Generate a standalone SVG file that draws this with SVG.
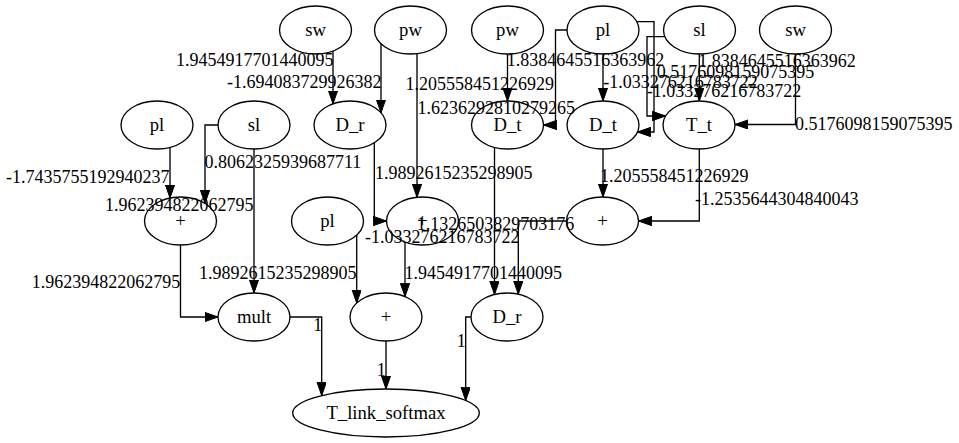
<svg xmlns="http://www.w3.org/2000/svg" width="959" height="443" viewBox="0 0 959 443">
<style>
  .node ellipse { fill: none; stroke: #000; stroke-width: 1.33; }
  .node text { font-family: "Liberation Serif", "Times New Roman", serif; font-size: 18.67px; text-anchor: middle; fill: #000; }
  .edges path { fill: none; stroke: #000; stroke-width: 1.33; marker-end: url(#arrow); }
  .labels text { font-family: "Liberation Serif", "Times New Roman", serif; font-size: 18px; fill: #000; }
</style>
<defs>
  <marker id="arrow" markerUnits="userSpaceOnUse" markerWidth="14" markerHeight="10" refX="13.3" refY="4.67" orient="auto">
    <path d="M0,0 L13.3,4.67 L0,9.33 Z" fill="#000" stroke="#000" stroke-width="1"/>
  </marker>
</defs>
<rect width="959" height="443" fill="#fff"/>

<!-- row 1 -->
<g id="sw1" class="node"><ellipse cx="315.5" cy="30" rx="36" ry="24"/><text x="315.5" y="36">sw</text></g>
<g id="pw1" class="node"><ellipse cx="410.5" cy="30" rx="36" ry="24"/><text x="410.5" y="36">pw</text></g>
<g id="pw2" class="node"><ellipse cx="507.5" cy="30" rx="36" ry="24"/><text x="507.5" y="36">pw</text></g>
<g id="pl2" class="node"><ellipse cx="603" cy="30" rx="36" ry="24"/><text x="603" y="36">pl</text></g>
<g id="sl2" class="node"><ellipse cx="699.5" cy="30" rx="36" ry="24"/><text x="699.5" y="36">sl</text></g>
<g id="sw2" class="node"><ellipse cx="795.5" cy="30" rx="36" ry="24"/><text x="795.5" y="36">sw</text></g>

<!-- row 2 -->
<g id="pl1" class="node"><ellipse cx="157" cy="125" rx="36" ry="24"/><text x="157" y="131">pl</text></g>
<g id="sl1" class="node"><ellipse cx="254" cy="125" rx="36" ry="24"/><text x="254" y="131">sl</text></g>
<g id="D_r1" class="node"><ellipse cx="350" cy="125" rx="36" ry="24"/><text x="350" y="131">D_r</text></g>
<g id="D_t1" class="node"><ellipse cx="507.5" cy="125" rx="36" ry="24"/><text x="507.5" y="131">D_t</text></g>
<g id="D_t2" class="node"><ellipse cx="603" cy="125" rx="36" ry="24"/><text x="603" y="131">D_t</text></g>
<g id="T_t" class="node"><ellipse cx="699" cy="125" rx="36" ry="24"/><text x="699" y="131">T_t</text></g>

<!-- row 3 -->
<g id="plusL" class="node"><ellipse cx="180.5" cy="221" rx="36" ry="24"/><text x="180.5" y="227">+</text></g>
<g id="pl3" class="node"><ellipse cx="327.5" cy="221" rx="36" ry="24"/><text x="327.5" y="227">pl</text></g>
<g id="plusM" class="node"><ellipse cx="422.5" cy="221" rx="36" ry="24"/><text x="422.5" y="227">+</text></g>
<g id="plusR" class="node"><ellipse cx="602.5" cy="221" rx="36" ry="24"/><text x="602.5" y="227">+</text></g>

<!-- row 4 -->
<g id="mult" class="node"><ellipse cx="254" cy="317" rx="36" ry="24"/><text x="254" y="323">mult</text></g>
<g id="plusB" class="node"><ellipse cx="386" cy="317" rx="36" ry="24"/><text x="386" y="323">+</text></g>
<g id="D_r2" class="node"><ellipse cx="507" cy="317" rx="36" ry="24"/><text x="507" y="323">D_r</text></g>

<!-- sink -->
<g id="T_link_softmax" class="node"><ellipse cx="386" cy="413" rx="93.3" ry="24"/><text x="386" y="419">T_link_softmax</text></g>

<g id="edges" class="edges">
  <path d="M333,51 V103.8"/>
  <path d="M381,43.8 V112.8"/>
  <path d="M417,53.6 V197.3"/>
  <path d="M170,147.4 V198"/>
  <path d="M218,125 H205 V203.4"/>
  <path d="M254,149 V293"/>
  <path d="M180.5,245 V317 H218"/>
  <path d="M374.3,142.7 V221 H386.5"/>
  <path d="M507.5,54 V101"/>
  <path d="M567,30 H555.5 V125 H543.5"/>
  <path d="M603,54 V101"/>
  <path d="M636.8,21.7 H654 V132 H637.4"/>
  <path d="M699.3,54 V101"/>
  <path d="M665,36.7 H647 V116 H665.6"/>
  <path d="M795.5,54 V124.5 H735"/>
  <path d="M603,149 V197"/>
  <path d="M699.3,149 V221 H638.5"/>
  <path d="M494.5,147.4 V294.5"/>
  <path d="M566.5,221 H518.3 V294.2"/>
  <path d="M356.7,235 V303"/>
  <path d="M405,242 V296.6"/>
  <path d="M290,317 H321.7 V395.6"/>
  <path d="M386,341 V389"/>
  <path d="M471,317 H465.7 V400.5"/>
</g>

<g id="edge-labels" class="labels">
  <text x="176" y="66">1.9454917701440095</text>
  <text x="227" y="87.5">-1.694083729926382</text>
  <text x="405.5" y="89.5">1.205558451226929</text>
  <text x="417.5" y="113.5">1.6236292810279265</text>
  <text x="506.7" y="65.5">1.8384645516363962</text>
  <text x="603.3" y="88">-1.033276216783722</text>
  <text x="656.7" y="78.3">0.5176098159075395</text>
  <text x="646.7" y="96.7">-1.033276216783722</text>
  <text x="698.3" y="67.3">1.8384645516363962</text>
  <text x="795" y="130">0.5176098159075395</text>
  <text x="6" y="183.3">-1.7435755192940237</text>
  <text x="105" y="210.7">1.962394822062795</text>
  <text x="204.5" y="168">0.8062325939687711</text>
  <text x="375" y="179.3">1.9892615235298905</text>
  <text x="600" y="181.7">1.205558451226929</text>
  <text x="695" y="205">-1.2535644304840043</text>
  <text x="416.7" y="230">1.1326503829703176</text>
  <text x="365" y="243.3">-1.033276216783722</text>
  <text x="31.7" y="288.3">1.962394822062795</text>
  <text x="199" y="279.3">1.9892615235298905</text>
  <text x="404.5" y="279">1.9454917701440095</text>
  <text x="313.3" y="330.5">1</text>
  <text x="376.7" y="376">1</text>
  <text x="456.7" y="347">1</text>
</g>
</svg>
